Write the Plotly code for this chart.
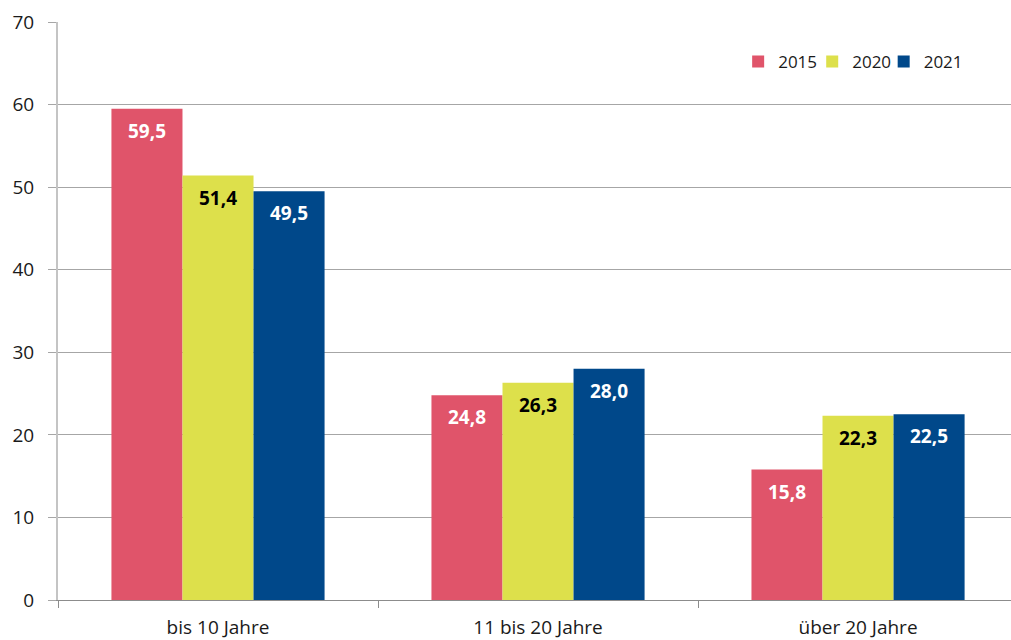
import plotly.graph_objects as go

categories = ["bis 10 Jahre", "11 bis 20 Jahre", "über 20 Jahre"]
years = ["2015", "2020", "2021"]
values_2015 = [59.5, 24.8, 15.8]
values_2020 = [51.4, 26.3, 22.3]
values_2021 = [49.5, 28.0, 22.5]
y_ticks = [0, 10, 20, 30, 40, 50, 60, 70]

series = [values_2015, values_2020, values_2021]
colors = ["#E0546A", "#DDE04B", "#00488A"]
text_colors = ["white", "black", "white"]
legend_ids = ["legend", "legend2", "legend3"]
legend_x = [0.7137, 0.7914, 0.8664]

FONT = "Open Sans"
BAR_PX = 71  # pixel width of one bar, used to shift labels within a group

fig = go.Figure()
for name, vals, col, lg in zip(years, series, colors, legend_ids):
    fig.add_trace(go.Bar(
        x=categories, y=vals, name=name, legend=lg, showlegend=True,
        marker=dict(color=col, line=dict(width=0)),
        hoverinfo="skip",
    ))

annotations = []
for i, (vals, tcol) in enumerate(zip(series, text_colors)):
    for cat, v in zip(categories, vals):
        annotations.append(dict(
            x=cat, y=v, xref="x", yref="y",
            text=f"<b>{v:.1f}</b>".replace(".", ","),
            showarrow=False, xanchor="center", yanchor="middle",
            xshift=(i - 1) * BAR_PX, yshift=-22,
            font=dict(family=FONT, size=19, color=tcol),
        ))

legend_style = dict(
    orientation="h", y=0.931, xanchor="left", yanchor="middle",
    font=dict(family=FONT, size=17, color="#1a1a1a"),
    itemwidth=30, bgcolor="rgba(0,0,0,0)",
)
legends = {lg: dict(x=lx, **legend_style) for lg, lx in zip(legend_ids, legend_x)}

fig.update_layout(
    width=1011, height=640, autosize=False,
    showlegend=True,
    margin=dict(l=58, r=0, t=22, b=40, autoexpand=False),
    paper_bgcolor="white", plot_bgcolor="white",
    barmode="group", bargap=0.334, bargroupgap=0,
    font=dict(family=FONT, color="#1a1a1a"),
    annotations=annotations,
    xaxis=dict(
        type="category",
        range=[-0.5, 2.478],
        tickson="boundaries",
        ticks="outside", ticklen=7, tickcolor="#8c8c8c", tickwidth=1,
        showline=True, linecolor="#8c8c8c", linewidth=1,
        tickfont=dict(family=FONT, size=19, color="#1a1a1a"),
        ticklabelstandoff=10,
        showgrid=False, automargin=False,
    ),
    yaxis=dict(
        range=[0, 70], tickvals=y_ticks,
        ticks="outside", ticklen=8, tickcolor="#a6a6a6", tickwidth=1,
        showgrid=True, gridcolor="#a6a6a6", gridwidth=1,
        showline=True, linecolor="#c4c4c4", linewidth=2,
        zeroline=False, automargin=False,
        tickfont=dict(family=FONT, size=19, color="#1a1a1a"),
        ticklabelstandoff=10,
    ),
    **legends,
)

post = (
    "document.body.style.margin='0';document.body.style.overflow='hidden';"
    "Plotly.relayout('{plot_id}', {width: 1011, height: 640});"
)
fig.write_html("out.html", config={"responsive": False, "displayModeBar": False},
               post_script=post)
